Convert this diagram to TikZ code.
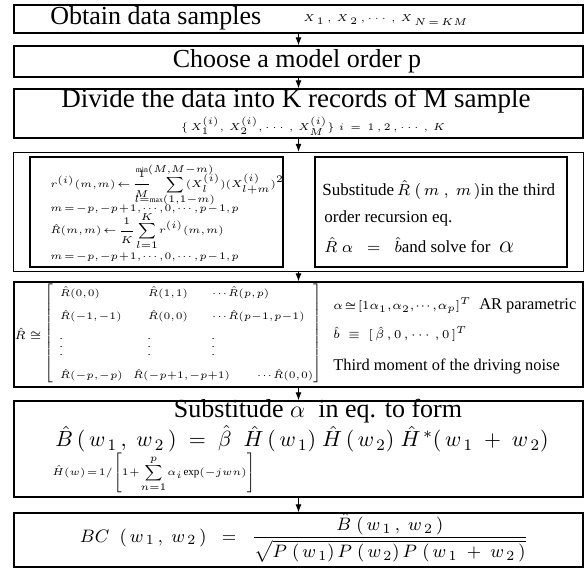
\documentclass[tikz,border=0pt]{standalone}
\usepackage{amsmath,mathtools}
\usepackage{fontspec}
\setmainfont{Liberation Serif}
\usetikzlibrary{arrows.meta,positioning,fit}

\newcommand{\tightmath}{\medmuskip=1mu\thickmuskip=2mu\thinmuskip=1mu}
\newcommand{\matmath}{\medmuskip=0mu\thickmuskip=1mu\thinmuskip=1mu}

\begin{document}
\begin{tikzpicture}[
  x=0.5pt, y=-0.5pt,
  stagebox/.style={draw, line width=0.6pt, inner sep=0pt, minimum width=284.5pt},
  innerbox/.style={draw, line width=0.6pt, inner sep=0pt, minimum height=55pt},
  headline/.style={inner sep=0pt, font=\fontsize{13}{15}\selectfont},
  smallmath/.style={inner sep=0pt, anchor=west, font=\fontsize{5.5}{7}\selectfont\tightmath},
  midtext/.style={inner sep=0pt, anchor=west, font=\fontsize{8.5}{10}\selectfont},
  sidetext/.style={inner sep=0pt, anchor=west, font=\fontsize{8.2}{10}\selectfont},
  flow/.style={-{Latex[length=4pt,width=3pt]}, line width=0.5pt}
]
\useasboundingbox (0,0) rectangle (584,569);

% stage boxes
\node[stagebox, minimum height=14pt] (obtain) at (298.5,19) {};
\node[stagebox, minimum height=15.5pt] (order) at (298.5,61.5) {};
\node[stagebox, minimum height=24.5pt] (divide) at (298.5,113.5) {};
\node[innerbox, minimum width=126.5pt] (corr) at (156.5,212) {};
\node[innerbox, minimum width=126pt] (recur) at (441,212) {};
\node[draw, line width=0.6pt, fit=(corr)(recur), inner xsep=8pt, inner ysep=2pt] (estimate) {};
\node[stagebox, minimum height=52.5pt] (matrix) at (298.5,334.5) {};
\node[stagebox, minimum height=48pt] (bispec) at (298.5,449) {};
\node[stagebox, minimum height=27pt] (bicoh) at (298.5,540) {};

% texts
\node[headline, anchor=west] (obtaintxt) at (50,18) {Obtain data samples};
\node[inner sep=0pt, anchor=west, font=\fontsize{5.5}{7}\selectfont] (samples) at (303,20)
  {$X_{\,1}\,,\,X_{\,2}\,,\cdots,\,X_{\,N\,=\,KM}$};
\node[headline] (ordertxt) at (297,61) {Choose a model order p};
\node[headline, font=\fontsize{13.5}{15}\selectfont] (dividetxt) at (296,101)
  {Divide the data into K records of M sample};
\node[inner sep=0pt, font=\fontsize{4}{5}\selectfont] (records) at (313,126)
  {$\{\,X_{1}^{(i)},\,X_{2}^{(i)},\cdots,\,X_{M}^{(i)}\}\;i\,=\,1\,,2\,,\cdots,\,K$};

\node[smallmath] (rline) at (50,185)
  {$r^{(i)}(m,m)\leftarrow\dfrac{1}{M}\hspace{7pt}\displaystyle\sum\limits_{\mathclap{l=\max(1,1-m)}}^{\mathclap{\min(M,M-m)}}\hspace{1pt}(X_l^{(i)})(X_{l+m}^{(i)})^2$};
\node[smallmath] (mline) at (50,209) {$m=-p,-p+1,\cdots,0,\cdots,p-1,p$};
\node[smallmath] (Rline) at (50,231)
  {$\hat{R}(m,m)\leftarrow\dfrac{1}{K}\displaystyle\sum\limits_{l=1}^{K}r^{(i)}(m,m)$};
\node[smallmath] (mline2) at (50,257) {$m=-p,-p+1,\cdots,0,\cdots,p-1,p$};

\node[midtext] (subst) at (322,190) {Substitude$\,\hat{R}\;(\,m\;,\;m\,)$in the third};
\node[midtext] (recursion) at (324,218) {order recursion eq.};
\node[midtext] (solve) at (324,245)
  {$\hat{R}\;\alpha\;\;=\;\;\hat{b}$and solve for\ \ {\large$\alpha$}};

\node[inner sep=0pt, font=\fontsize{6}{7}\selectfont] (Rdef) at (28,334) {$\hat{R}\cong$};
\node[inner sep=0pt, anchor=west, font=\fontsize{5.5}{7.5}\selectfont\matmath] (Rmat) at (44,333)
  {$\renewcommand{\arraystretch}{1.55}\left[\begin{array}{@{\hspace{3.5pt}}l@{}l@{}l@{\hspace{2pt}}}
  \makebox[44pt][l]{$\hat{R}(0,0)$} & \makebox[32pt][l]{$\hat{R}(1,1)$} & \cdots\hat{R}(p,p)\\
  \hat{R}(-1,-1) & \hat{R}(0,0) & \cdots\hat{R}(p-1,p-1)\\
  \vdots & \vdots & \vdots\\
  \multicolumn{3}{@{\hspace{3.5pt}}l@{}}{\hat{R}(-p,-p)\hspace{5pt}\hat{R}(-p+1,-p+1)\hspace{13pt}\cdots\hat{R}(0,0)}
  \end{array}\right]$};
\node[sidetext] (alphadef) at (333,306)
  {{\fontsize{6}{7}\selectfont\tightmath$\alpha\cong[1\alpha_1,\alpha_2,\cdots,\alpha_p]^T$}\ \ AR parametric};
\node[sidetext] (bdef) at (333,334)
  {{\fontsize{6}{7}\selectfont$\hat{b}\;\equiv\;[\,\hat{\beta}\,,0\,,\cdots\,,0\,]^T$}};
\node[sidetext] (moment) at (333,366) {Third moment of the driving noise};

\node[headline] (substalpha) at (318,411) {Substitude {\large$\alpha$}\ \ in eq. to form};
\node[inner sep=0pt, font=\fontsize{11}{13}\selectfont] (Bline) at (302,439)
  {$\hat{B}\,(\,w_{\,1}\,,\;w_{\,2}\,)\;=\;\hat{\beta}\;\;\hat{H}\,(\,w_{\,1})\;\hat{H}\,(\,w_{\,2})\;\hat{H}^{\,*}(\,w_{\,1}\;+\;w_{\,2})$};
\node[inner sep=0pt, anchor=west, font=\fontsize{5.5}{7}\selectfont\tightmath] (Hline) at (52,473)
  {$\hat{H}(w)=1/\left[1+\displaystyle\sum\limits_{n=1}^{p}\alpha_i\exp(-jwn)\right]$};

\node[inner sep=0pt, font=\fontsize{9.5}{11}\selectfont] (bcline) at (304,538)
  {$BC\;\;(\,w_{\,1}\,,\;w_{\,2}\,)\;\;=\;\;\dfrac{\hat{B}\;(\,w_{\,1}\,,\;w_{\,2}\,)}{\sqrt{P\;(\,w_{\,1})\,P\;(\,w_{\,2})\,P\;(\,w_{\,1}\;+\;w_{\,2}\,)}}$};

% connectors
\draw[flow] (obtain.south) -- (order.north);
\draw[flow] (order.south) -- (divide.north);
\draw[flow] (divide.south) -- (estimate.north);
\draw[flow] (estimate.south) -- (matrix.north);
\draw[flow] (matrix.south) -- (bispec.north);
\draw[flow] (bispec.south) -- (bicoh.north);

\end{tikzpicture}
\end{document}
